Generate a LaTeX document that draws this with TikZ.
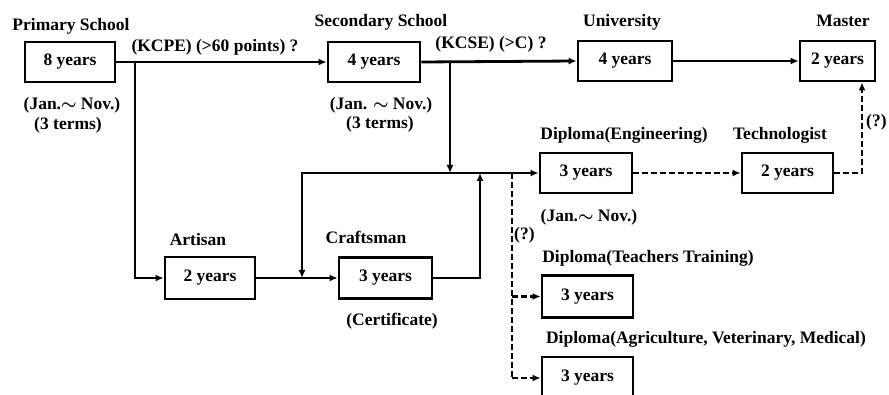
\documentclass[tikz,border=0pt]{standalone}
\usepackage{fontspec}
\setmainfont{Liberation Serif}
\usetikzlibrary{arrows.meta}
\begin{document}
\begin{tikzpicture}[x=1pt,y=-1pt,
  every node/.style={font=\fontsize{17.5}{19}\selectfont\bfseries, inner sep=0pt},
  box/.style={draw, line width=2.8pt, minimum width=91pt, minimum height=40pt},
  lbl/.style={anchor=base},
  conn/.style={line width=2.8pt, -{Latex[length=8pt,width=7pt]}},
  plain/.style={line width=2.8pt},
  dconn/.style={line width=2.4pt, dash pattern=on 6pt off 3pt, -{Latex[length=8pt,width=7pt]}},
  dplain/.style={line width=2.4pt, dash pattern=on 6pt off 3pt}]
\clip (0,0) rectangle (889,395);
\useasboundingbox (0,0) rectangle (889,395);
% boxes
\node[box, minimum width=90pt] (prim) at (70,62) {8 years};
\node[box, minimum width=92pt] (sec) at (374,62) {4 years};
\node[box, minimum width=94pt] (uni) at (625,61) {4 years};
\node[box, minimum width=75pt] (mas) at (837.5,61) {2 years};
\node[box, minimum width=92pt] (dipE) at (586,173) {3 years};
\node[box, minimum width=91pt] (tech) at (787.5,173) {2 years};
\node[box, minimum width=91pt, minimum height=42pt] (teach) at (587.5,296.5) {3 years};
\node[box, minimum width=91pt, minimum height=42pt] (agri) at (587.5,378) {3 years};
\node[box, minimum width=90pt, minimum height=42pt] (art) at (210,278) {2 years};
\node[box, minimum width=93pt, minimum height=41pt] (craft) at (385.5,278) {3 years};
% labels
\node[lbl] (lprim) at (71,31) {Primary School};
\node[lbl] (lkcpe) at (215,52) {(KCPE) (>60 points) ?};
\node[lbl] (lpj) at (72,110) {(Jan.{\boldmath$\sim$} Nov.)};
\node[lbl] (lpt) at (68,130) {(3 terms)};
\node[lbl] (lsec) at (381,27) {Secondary School};
\node[lbl] (lkcse) at (491,49) {(KCSE) (>C) ?};
\node[lbl] (lsj) at (381,110) {(Jan. {\boldmath$\sim$} Nov.)};
\node[lbl] (lst) at (380,129) {(3 terms)};
\node[lbl] (luni) at (622,27) {University};
\node[lbl] (lmas) at (843,27) {Master};
\node[lbl, anchor=base west] (lq1) at (866,127) {(?)};
\node[lbl] (ldipE) at (624,140) {Diploma(Engineering)};
\node[lbl] (ltech) at (780,140) {Technologist};
\node[lbl] (ldj) at (589,222) {(Jan.{\boldmath$\sim$} Nov.)};
\node[lbl, anchor=base west] (lq2) at (514,240) {(?)};
\node[lbl] (lteach) at (648,263) {Diploma(Teachers Training)};
\node[lbl] (lagri) at (706,344) {Diploma(Agriculture, Veterinary, Medical)};
\node[lbl] (lart) at (198,246) {Artisan};
\node[lbl] (lcraft) at (366,244) {Craftsman};
\node[lbl] (lcert) at (392,326) {(Certificate)};
% junction coordinates
\coordinate (jP) at (135,62);
\coordinate (jPb) at (135,278);
\coordinate (jS) at (450,62);
\coordinate (jSb) at (450,173);
\coordinate (jL) at (302,173);
\coordinate (jLb) at (302,278);
\coordinate (jC) at (480,173);
\coordinate (jCb) at (480,278);
\coordinate (jT) at (862,173);
\coordinate (jD) at (512,173);
\coordinate (jD1) at (512,296.5);
\coordinate (jD2) at (512,378);
% solid connectors
\draw[conn] (prim.east) -- (sec.west);
\draw[conn] (jP) -- (jPb) -- (art.west);
\draw[conn] (sec.east) -- (uni.west);
\draw[conn] (jS) -- (jSb);
\draw[conn] (uni.east) -- (mas.west);
\draw[conn] (art.east) -- (craft.west);
\draw[conn] (craft.east) -- (jCb) -- (jC);
\draw[conn] (jC) -- (jL) -- (jLb);
\draw[conn] (jC) -- (dipE.west);
% dashed connectors
\draw[dconn] (dipE.east) -- (tech.west);
\draw[dconn] (tech.east) -- (jT) -- (mas.south -| jT);
\draw[dplain] (jD) -- (jD2);
\draw[dconn] (jD1) -- (teach.west);
\draw[dconn] (jD2) -- (agri.west);
\end{tikzpicture}
\end{document}
